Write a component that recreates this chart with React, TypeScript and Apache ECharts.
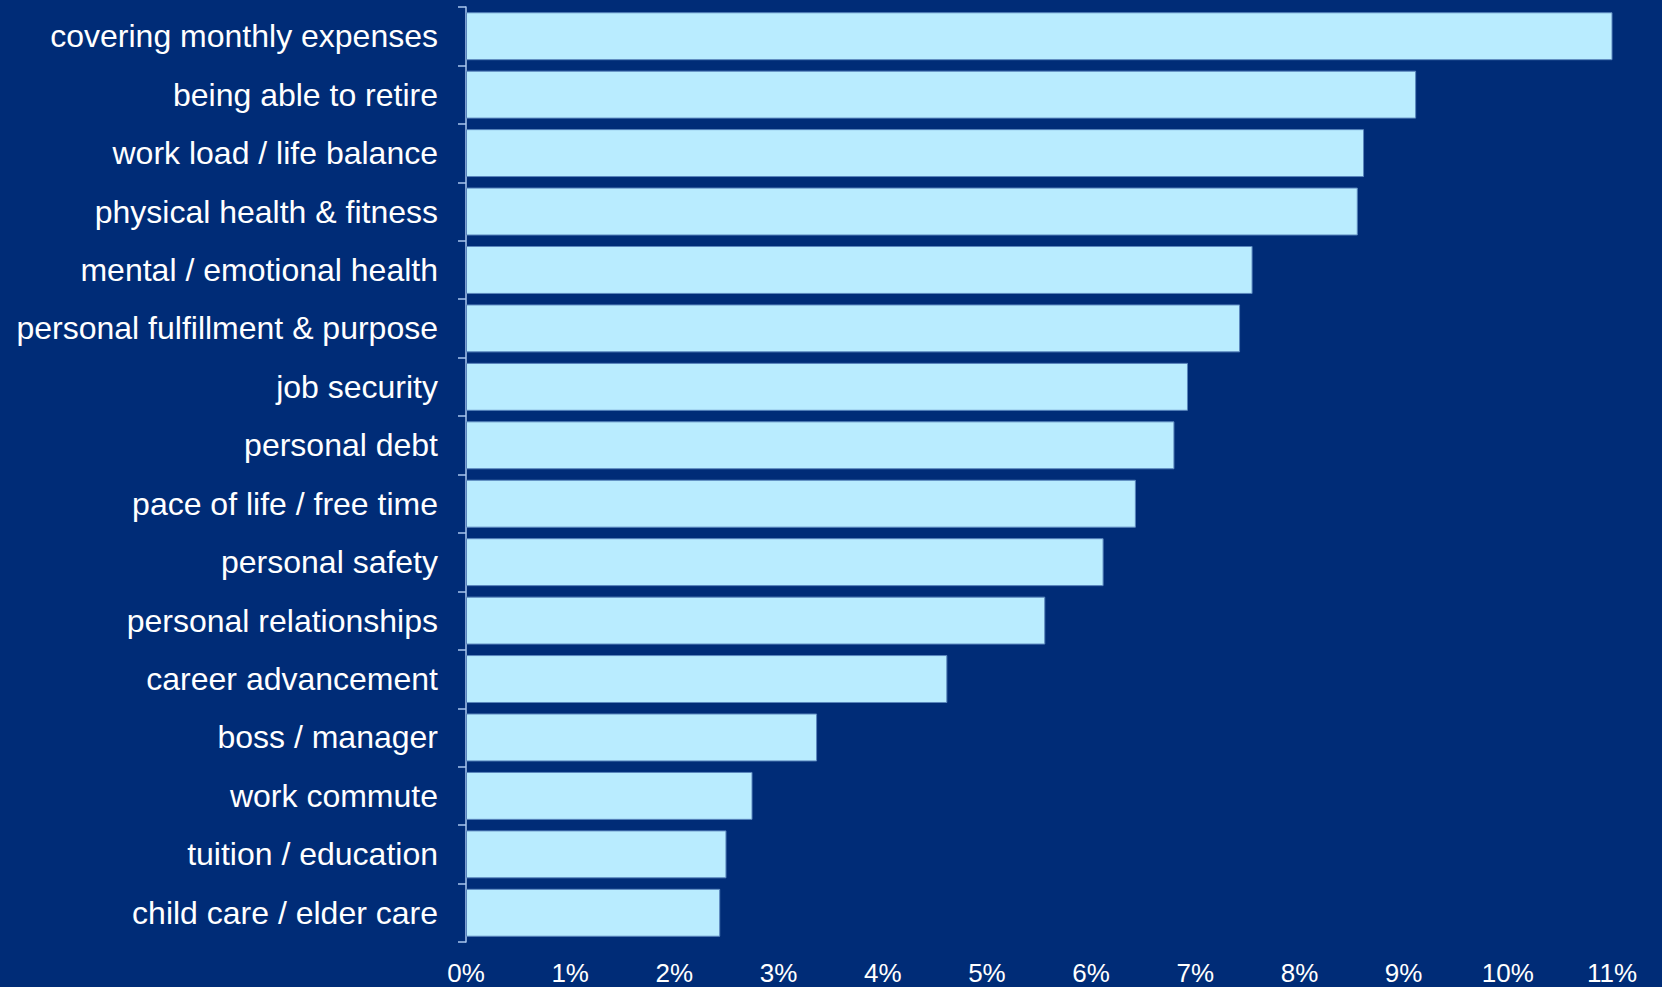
import React, { useEffect, useRef } from "react";
import * as echarts from "echarts";

const categories = [
  "covering monthly expenses",
  "being able to retire",
  "work load / life balance",
  "physical health & fitness",
  "mental / emotional health",
  "personal fulfillment & purpose",
  "job security",
  "personal debt",
  "pace of life / free time",
  "personal safety",
  "personal relationships",
  "career advancement",
  "boss / manager",
  "work commute",
  "tuition / education",
  "child care / elder care",
];

const values = [11.02, 9.12, 8.62, 8.56, 7.55, 7.43, 6.93, 6.8, 6.43, 6.12, 5.56, 4.62, 3.37, 2.75, 2.5, 2.44];

const xTicks = { min: 0, max: 11, interval: 1 };

export default function App() {
  const ref = useRef<HTMLDivElement>(null);
  useEffect(() => {
    document.body.style.margin = "0";
    const chart = echarts.init(ref.current!, null, { renderer: "svg" });
    chart.setOption({
      animation: false,
      backgroundColor: "#002c77",
      grid: { left: 466, right: 50, top: 7, bottom: 45, containLabel: false },
      xAxis: {
        type: "value",
        min: xTicks.min,
        max: xTicks.max,
        interval: xTicks.interval,
        axisLine: { show: false },
        axisTick: { show: false },
        splitLine: { show: false },
        axisLabel: {
          color: "#ffffff",
          fontFamily: "Liberation Sans, Arial, sans-serif",
          fontSize: 26,
          margin: 18,
          formatter: (v: number) => `${v}%`,
        },
      },
      yAxis: {
        type: "category",
        inverse: true,
        data: categories,
        axisLine: { show: true, lineStyle: { color: "#a9c6ee", width: 1.5 } },
        axisTick: { show: true, length: 8, lineStyle: { color: "#a9c6ee", width: 1.5 } },
        axisLabel: {
          color: "#ffffff",
          fontFamily: "Liberation Sans, Arial, sans-serif",
          fontSize: 32,
          margin: 28,
        },
      },
      series: [
        {
          type: "bar",
          data: values,
          barCategoryGap: "18%",
          itemStyle: { color: "#b9ecff", borderColor: "#5a86bd", borderWidth: 1 },
        },
      ],
    });
    return () => chart.dispose();
  }, []);
  return <div ref={ref} style={{ width: 1662, height: 987 }} />;
}
